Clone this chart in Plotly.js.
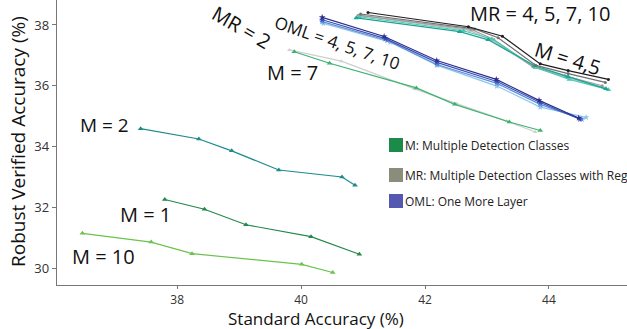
<!DOCTYPE html>
<html>
<head>
<meta charset="utf-8">
<script src="https://cdn.plot.ly/plotly-3.0.1.min.js"></script>
<style>html,body{margin:0;padding:0;background:#fff;}#chart{width:627px;height:329px;}</style>
</head>
<body>
<div id="chart"></div>
<script>
// ---- data (standard accuracy x, robust verified accuracy y) ----
const m1_x = [37.80, 38.44, 39.11, 40.16, 40.94];
const m1_y = [32.26, 31.94, 31.43, 31.04, 30.46];
const m2_x = [37.41, 38.35, 38.88, 39.64, 40.66, 40.87];
const m2_y = [34.59, 34.25, 33.86, 33.23, 33.00, 32.73];
const m10_x = [36.47, 37.58, 38.24, 40.01, 40.51];
const m10_y = [31.15, 30.86, 30.48, 30.13, 29.86];
const m7_x = [39.89, 40.46, 41.86, 42.48, 43.36, 43.86];
const m7_y = [37.12, 36.74, 35.93, 35.39, 34.81, 34.53];
const m4_x = [40.89, 42.56, 43.02, 43.77, 44.31, 44.92];
const m4_y = [38.23, 37.78, 37.51, 36.66, 36.30, 35.90];
const m5_x = [40.94, 42.62, 43.08, 43.79, 44.33, 44.96];
const m5_y = [38.27, 37.81, 37.54, 36.60, 36.21, 35.87];

const mr2_x = [39.81, 40.65, 41.83, 42.51, 43.32, 43.78];
const mr2_y = [37.18, 36.81, 35.90, 35.41, 34.84, 34.48];
const mr4_x = [41.00, 42.72, 43.08, 43.76, 44.31, 44.88];
const mr4_y = [38.30, 37.82, 37.49, 36.60, 36.27, 35.94];
const mr5_x = [40.92, 42.75, 43.11, 43.74, 44.26, 44.86];
const mr5_y = [38.32, 37.85, 37.52, 36.63, 36.33, 36.00];
const mr7_x = [40.96, 42.80, 43.18, 43.79, 44.31, 44.91];
const mr7_y = [38.36, 37.87, 37.58, 36.67, 36.40, 36.11];
const mr10_x = [41.08, 42.70, 43.25, 43.86, 44.31, 44.96];
const mr10_y = [38.41, 37.94, 37.63, 36.72, 36.50, 36.21];

const oml4_x = [40.34, 41.34, 42.19, 43.15, 43.84, 44.48];
const oml4_y = [38.25, 37.62, 36.83, 36.21, 35.52, 34.94];
const oml5_x = [40.34, 41.36, 42.19, 43.16, 43.86, 44.50];
const oml5_y = [38.17, 37.55, 36.77, 36.14, 35.45, 34.90];
const oml7_x = [40.34, 41.39, 42.19, 43.16, 43.86, 44.53];
const oml7_y = [38.11, 37.49, 36.70, 36.08, 35.39, 34.90];
const oml10_x = [40.36, 41.44, 42.20, 43.16, 43.86, 44.60];
const oml10_y = [38.05, 37.43, 36.67, 35.99, 35.30, 34.96];

const xTicks = [38, 40, 42, 44];
const yTicks = [30, 32, 34, 36, 38];

const legendLabels = ["M: Multiple Detection Classes", "MR: Multiple Detection Classes with Reg", "OML: One More Layer"];
const legendColors = ["#1c8a48", "#8c8c7c", "#5558b0"];

const seriesLabels = ["M = 2", "M = 1", "M = 10", "M = 7", "MR = 2", "OML = 4, 5, 7, 10", "MR = 4, 5, 7, 10", "M = 4,5"];

const xTitle = "Standard Accuracy (%)";
const yTitle = "Robust Verified Accuracy (%)";

// ---- chart ----
const W = 627, H = 329, L = 57, R = 0, T = 0, B = 44;
const xr = [36.06, 45.26], yr = [29.45, 38.82];
const pw = W - L - R, ph = H - T - B;
const px2x = p => xr[0] + (p - L) / pw * (xr[1] - xr[0]);
const px2y = p => yr[1] - (p - T) / ph * (yr[1] - yr[0]);
const px2px = p => (p - L) / pw;          // paper x (plot-area fraction)
const px2py = p => 1 - (p - T) / ph;      // paper y (plot-area fraction)

function tr(x, y, color, sym, size) {
  return {x: x, y: y, type: 'scatter', mode: 'lines+markers',
    line: {color: color, width: 1.2},
    marker: {symbol: sym, size: size, color: color},
    showlegend: false, hoverinfo: 'skip'};
}
const traces = [
  tr(mr2_x, mr2_y, '#cfcfcf', 'triangle-up', 4),
  tr(m7_x, m7_y, '#3cb36e', 'triangle-up', 5),
  tr(m1_x, m1_y, '#23894a', 'triangle-up', 5),
  tr(m2_x, m2_y, '#1f8a8a', 'triangle-up', 5),
  tr(m10_x, m10_y, '#6cc24e', 'triangle-up', 5),
  tr(mr4_x, mr4_y, '#bdbdbd', 'circle', 3),
  tr(mr5_x, mr5_y, '#9a9a9a', 'circle', 3),
  tr(m5_x, m5_y, '#4cc9b4', 'triangle-up', 5),
  tr(m4_x, m4_y, '#19a596', 'triangle-up', 5),
  tr(mr7_x, mr7_y, '#707070', 'circle', 3),
  tr(mr10_x, mr10_y, '#1e1e1e', 'circle', 3),
  tr(oml10_x, oml10_y, '#8ec5f0', 'star', 5),
  tr(oml7_x, oml7_y, '#5b8fd8', 'star', 5),
  tr(oml5_x, oml5_y, '#3d4fb8', 'star', 5),
  tr(oml4_x, oml4_y, '#2b2f8c', 'star', 5)
];

const labelPos = [
  [104, 125, 0, 19], [145, 214, 0, 20], [103, 256, 0, 20], [292, 72, 0, 20],
  [242, 27, 30, 20], [337, 42, 19, 17], [540, 13, 0, 20], [568, 58, 17, 20]
];
const annotations = seriesLabels.map((t, i) => ({
  x: px2x(labelPos[i][0]), y: px2y(labelPos[i][1]), xref: 'x', yref: 'y',
  text: t, showarrow: false, textangle: labelPos[i][2],
  font: {family: 'Open Sans', size: labelPos[i][3], color: '#111'},
  xanchor: 'center', yanchor: 'middle'
}));
const shapes = [];
const legY = [145, 175, 201];
legendLabels.forEach((t, i) => {
  shapes.push({type: 'rect', xref: 'x', yref: 'y',
    x0: px2x(389), x1: px2x(403), y0: px2y(legY[i] - 7), y1: px2y(legY[i] + 7),
    fillcolor: legendColors[i], line: {width: 0}});
  annotations.push({x: px2x(403), y: px2y(legY[i]), xref: 'x', yref: 'y', text: t,
    showarrow: false, xanchor: 'left', yanchor: 'middle',
    font: {family: 'Open Sans', size: 12, color: '#222'}});
});
// x-axis title, placed as in the reference (left of plot centre, just below the tick labels)
annotations.push({x: px2px(316), y: px2py(305), xref: 'paper', yref: 'paper', yanchor: 'top',
  xanchor: 'center', showarrow: false, text: xTitle,
  font: {family: 'Open Sans', size: 17, color: '#111'}});
// y-axis title
annotations.push({x: px2px(18), y: px2py(142), xref: 'paper', yref: 'paper', xanchor: 'center',
  yanchor: 'middle', showarrow: false, textangle: -90, text: yTitle,
  font: {family: 'Open Sans', size: 19, color: '#111'}});

const layout = {
  width: W, height: H,
  margin: {l: L, r: R, t: T, b: B, pad: 0},
  paper_bgcolor: '#fff', plot_bgcolor: '#fff',
  showlegend: false,
  xaxis: {range: xr, tickvals: xTicks, ticktext: xTicks.map(String),
    showgrid: false, zeroline: false, showline: true, linecolor: '#777', linewidth: 1.2,
    ticks: 'outside', ticklen: 3, tickcolor: '#777',
    tickfont: {family: 'Open Sans', size: 12, color: '#333'}},
  yaxis: {range: yr, tickvals: yTicks, ticktext: yTicks.map(String),
    showgrid: false, zeroline: false, showline: true, linecolor: '#777', linewidth: 1.2,
    ticks: 'outside', ticklen: 4, tickcolor: '#777',
    tickfont: {family: 'Open Sans', size: 13, color: '#333'}},
  annotations: annotations,
  shapes: shapes
};
Plotly.newPlot('chart', traces, layout, {displayModeBar: false, staticPlot: true});
</script>
</body>
</html>
